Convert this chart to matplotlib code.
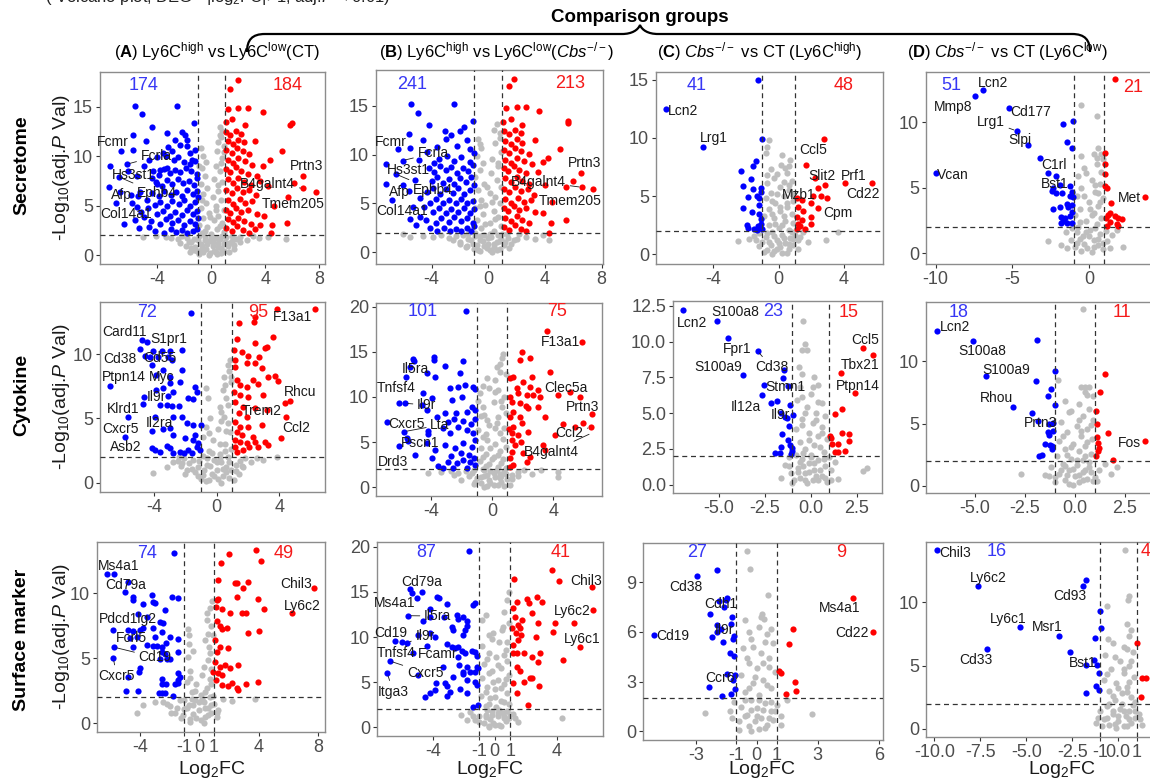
import matplotlib
matplotlib.use("Agg")
import matplotlib.pyplot as plt
from matplotlib.path import Path
from matplotlib.patches import PathPatch

plt.rcParams['font.family'] = ['Liberation Sans', 'DejaVu Sans']
plt.rcParams['mathtext.fontset'] = 'custom'
plt.rcParams['mathtext.rm'] = 'Liberation Sans'
plt.rcParams['mathtext.it'] = 'Liberation Sans:italic'
plt.rcParams['mathtext.bf'] = 'Liberation Sans:bold'
plt.rcParams['axes.unicode_minus'] = False

# ---------------- data (log2FC, -log10 adj.P) ----------------
# row 1: secretome
A1_blue = [(-5.65,15.1),(-5.16,14.3),(-4.42,13.0),(-2.57,15.1),(-1.26,13.4),(-5.83,12.2),(-6.7,10.5),(-5.8,10.6),
           (-7.5,9.0),(-6.27,9.2),(-6.84,7.9),(-7.58,6.9),(-7.1,5.3),(-5.4,2.7),(-5.0,3.9),(-4.86,11.5),(-3.3,12.4),
           (-2.2,12.5),(-1.8,11.7),(-6.77,6.4),(-6.0,6.1),(-5.46,6.0),(-5.5,4.9),(-5.3,6.4),(-4.8,5.6),(-4.05,7.2),
           (-4.4,7.8),(-3.8,8.6),(-3.3,8.8),(-2.8,9.6),(-2.3,11.1),(-1.8,11.0),(-1.6,10.3),(-1.45,9.6),(-1.2,10.6),
           (-1.95,12.2),(-2.7,11.7),(-3.2,10.9),(-3.4,10.0),
           (-4.3,8.5),(-3.9,8.1),(-3.5,8.7),(-3.1,8.3),(-2.7,8.6),(-2.3,8.4),(-1.9,8.8),(-1.5,8.5),(-1.1,8.2),
           (-4.1,7.4),(-3.7,7.0),(-3.3,7.6),(-2.9,7.2),(-2.5,7.7),(-2.1,7.3),(-1.7,7.5),(-1.3,7.1),(-1.05,7.8),
           (-4.4,6.3),(-3.9,6.0),(-3.5,6.5),(-3.0,6.1),(-2.6,6.4),(-2.2,6.0),(-1.8,6.6),(-1.4,6.2),(-1.1,6.5),
           (-4.2,5.1),(-3.8,5.4),(-3.3,5.0),(-2.9,5.5),(-2.4,5.2),(-2.0,5.6),(-1.6,5.0),(-1.2,5.4),
           (-4.0,4.2),(-3.6,4.5),(-3.1,4.0),(-2.7,4.4),(-2.2,4.1),(-1.8,4.6),(-1.4,4.2),(-1.05,4.5),
           (-4.5,3.4),(-3.8,3.1),(-3.4,3.6),(-2.9,3.2),(-2.5,3.5),(-2.0,3.0),(-1.6,3.4),(-1.2,3.1),
           (-4.2,2.4),(-3.5,2.2),(-3.0,2.6),(-2.6,2.3),(-2.2,2.5),(-1.8,2.2),(-1.4,2.4),(-1.1,2.6),(-1.0,3.8),
           (-1.0,5.9),(-4.7,4.8),(-4.6,2.8),(-5.2,4.4),(-5.7,3.5),(-5.9,5.3),(-6.5,3.1),(-6.2,8.5),(-5.5,8.0),
           (-5.0,9.0),(-4.6,9.6),(-4.0,9.9),(-3.6,10.3),(-2.9,10.5),(-2.5,9.9),(-2.0,9.4),(-1.6,9.2),(-1.2,9.5)]
A1_red = [(1.93,17.7),(1.38,16.8),(1.26,14.8),(2.0,14.9),(2.7,14.9),(3.78,14.5),(5.95,13.4),(5.8,13.2),(5.2,10.5),
          (4.3,9.6),(6.8,8.0),(7.75,6.35),(6.1,7.3),(6.8,6.75),(5.7,5.9),(5.6,3.2),(4.5,3.0),(4.4,2.2),(3.9,3.95),
          (3.3,6.1),(1.1,12.5),(1.4,12.2),(1.8,12.6),(2.2,12.3),(1.2,11.5),(1.6,11.2),(2.0,11.7),(2.4,11.4),
          (1.1,10.6),(1.5,10.3),(1.9,10.8),(2.3,10.5),(2.8,10.2),(1.2,9.6),(1.6,9.3),(2.0,9.8),(2.5,9.5),(3.0,9.1),
          (1.1,8.7),(1.4,8.4),(1.8,8.9),(2.2,8.5),(2.7,8.2),(3.4,8.0),(1.2,7.7),(1.6,7.3),(2.0,7.8),(2.4,7.4),
          (2.9,7.1),(3.6,7.5),(1.1,6.6),(1.5,6.3),(1.9,6.8),(2.3,6.4),(2.8,6.6),(4.2,7.0),(1.2,5.6),(1.6,5.2),
          (2.1,5.7),(2.5,5.3),(3.0,5.5),(1.1,4.6),(1.4,4.3),(1.8,4.8),(2.2,4.4),(2.7,4.6),(3.4,4.2),(1.2,3.6),
          (1.6,3.3),(2.0,3.8),(2.4,3.4),(2.9,3.1),(1.1,2.7),(1.5,2.4),(1.9,2.9),(2.3,2.5),(2.8,2.2),(3.2,2.6),
          (1.05,13.5),(1.5,13.8),(2.5,13.2),(3.2,11.6),(3.8,9.0),(4.6,5.0),(3.6,3.0)]
A1_grey = [(0.6,13.0),(0.8,12.6),(0.7,12.0),(0.5,11.4),(0.9,11.0),(-0.8,10.8),(0.4,10.5),(-0.6,10.0),(0.8,9.8),
           (-0.4,9.4),(0.3,9.0),(-0.7,8.8),(0.6,8.5),(-0.5,8.0),(0.2,7.7),(0.8,7.4),(-0.8,7.2),(-0.3,6.8),(0.5,6.5),
           (-0.6,6.2),(0.1,5.9),(0.7,5.6),(-0.4,5.3),(0.3,5.0),(-0.8,4.8),(0.9,4.6),(-0.2,4.3),(0.5,4.0),(-0.6,3.7),
           (0.2,3.5),(0.8,3.2),(-0.9,3.0),(-0.3,2.8),(0.4,2.6),(0.9,2.3),(-0.7,2.2),(0.0,2.1),(-0.5,1.8),(0.3,1.7),
           (-0.2,1.4),(0.5,1.2),(-0.8,1.1),(0.1,0.9),(0.7,0.7),(-0.4,0.6),(0.2,0.4),(-0.1,0.2),(0.4,0.1),(-0.6,0.3),
           (0.9,0.4),(-1.2,0.8),(1.2,0.9),(-1.5,1.3),(1.5,1.4),(-1.8,1.7),(1.8,1.6),(-2.2,1.9),(2.1,1.8),(-2.5,1.6),
           (2.6,1.5),(-3.0,1.7),(3.1,1.9),(-3.4,1.8),(3.5,1.7),(-4.1,1.9),(4.2,1.8),(-5.1,1.8),(5.5,1.6),(-1.0,1.5),
           (1.0,1.3),(-1.3,0.5),(1.3,0.3),(-0.9,0.1),(0.8,1.9),(-1.6,0.3),(1.7,0.6),
           (-1.9,0.9),(-1.5,0.7),(-1.1,0.4),(-0.7,0.9),(-0.3,1.1),(0.1,1.3),(0.5,0.8),(0.9,1.1),(1.3,1.2),(1.7,1.0),
           (2.1,1.3),(-2.3,1.2),(-0.9,1.9),(-0.5,1.5),(0.0,1.7),(0.6,1.6),(1.1,1.8),(1.5,1.9),(-1.3,1.6),(-1.7,1.3),
           (-0.2,0.0),(0.3,0.3),(0.7,0.2),(-0.8,0.5),(-0.5,2.4),(0.6,2.9),(-0.1,3.9),(0.3,4.6),(-0.7,5.6),(0.5,7.1),
           (0.7,9.3),(0.9,10.4),(-0.9,9.0),(0.6,12.2)]

B1_blue = [(-5.45,15.2),(-4.93,14.3),(-4.2,13.05),(-2.4,15.2),(-1.1,13.5),(-5.56,12.1),(-6.4,10.6),(-5.5,10.7),
           (-7.2,9.05),(-6.04,9.4),(-6.5,8.0),(-7.2,7.0),(-6.8,5.4),(-5.1,2.8),(-4.1,2.5),(-4.6,11.5),(-3.05,12.4),
           (-2.0,12.4),(-1.5,11.5),(-6.0,6.9),(-5.6,6.3),(-5.2,7.4),(-4.8,5.6),(-5.3,4.6),(-4.9,9.5),(-4.3,10.3),
           (-3.6,10.8),(-3.0,11.6),(-2.6,12.0),(-1.7,12.8),(-1.3,10.6),(-2.2,10.9),(-3.8,9.2),
           (-4.2,8.6),(-3.8,8.2),(-3.4,8.8),(-3.0,8.4),(-2.6,8.7),(-2.2,8.1),(-1.8,8.6),(-1.4,8.3),(-1.05,8.9),
           (-4.0,7.3),(-3.6,7.7),(-3.2,7.1),(-2.8,7.5),(-2.4,7.0),(-2.0,7.6),(-1.6,7.2),(-1.2,7.7),
           (-4.3,6.2),(-3.9,6.6),(-3.4,6.0),(-3.0,6.5),(-2.5,6.1),(-2.1,6.6),(-1.7,6.0),(-1.3,6.4),(-1.0,6.9),
           (-4.1,5.0),(-3.7,5.5),(-3.2,5.1),(-2.8,5.4),(-2.3,5.0),(-1.9,5.5),(-1.5,5.1),(-1.1,5.3),
           (-3.9,4.1),(-3.5,4.5),(-3.0,4.0),(-2.6,4.4),(-2.1,4.1),(-1.7,4.5),(-1.3,4.0),(-1.0,4.4),
           (-4.4,3.3),(-3.7,3.0),(-3.3,3.5),(-2.8,3.1),(-2.4,3.6),(-1.9,3.2),(-1.5,3.5),(-1.1,3.0),
           (-3.6,2.2),(-3.1,2.5),(-2.7,2.2),(-2.3,2.4),(-1.9,2.2),(-1.5,2.5),(-1.2,2.2),(-1.0,2.7),
           (-4.5,4.6),(-4.8,3.6),(-5.5,3.4),(-3.5,9.6),(-2.9,9.9),(-2.4,9.4),(-1.9,9.8),(-1.3,9.3),(-1.0,10.2)]
B1_red = [(1.5,17.0),(1.85,17.8),(1.25,14.8),(2.0,14.9),(2.7,14.9),(3.6,14.5),(5.66,13.5),(5.6,13.2),(5.1,10.6),
          (4.2,9.7),(6.55,8.1),(7.4,6.45),(5.96,7.35),(6.6,6.66),(5.5,6.7),(5.5,3.3),(4.4,3.0),(4.3,2.0),(3.85,4.0),
          (3.2,5.9),(1.1,12.4),(1.5,12.1),(1.9,12.5),(2.3,12.2),(1.2,11.4),(1.6,11.1),(2.0,11.6),(2.4,11.2),
          (1.1,10.5),(1.5,10.2),(1.9,10.7),(2.3,10.4),(2.9,10.1),(1.2,9.5),(1.6,9.2),(2.0,9.7),(2.5,9.4),(3.1,9.0),
          (1.1,8.6),(1.4,8.3),(1.8,8.8),(2.2,8.4),(2.7,8.1),(3.5,8.2),(1.2,7.6),(1.6,7.2),(2.0,7.7),(2.4,7.3),
          (2.9,7.0),(1.1,6.5),(1.5,6.2),(1.9,6.7),(2.3,6.3),(2.8,6.5),(4.0,6.9),(1.2,5.5),(1.6,5.1),(2.1,5.6),
          (2.5,5.2),(3.0,5.4),(1.1,4.5),(1.4,4.2),(1.8,4.7),(2.2,4.3),(2.7,4.5),(3.3,4.1),(1.2,3.5),(1.6,3.2),
          (2.0,3.7),(2.4,3.3),(2.9,3.0),(1.1,2.6),(1.5,2.3),(1.9,2.8),(2.3,2.4),(2.7,2.2),(1.05,13.4),(1.6,13.7),
          (2.4,13.0),(3.3,11.5),(3.9,9.3),(4.5,5.2)]
B1_grey = [(0.6,13.1),(0.4,12.5),(0.8,12.2),(-0.7,11.6),(0.5,11.2),(-0.5,10.7),(0.9,10.3),(-0.8,9.9),(0.3,9.6),
           (-0.4,9.1),(0.7,8.8),(-0.6,8.4),(0.2,8.1),(-0.9,7.7),(0.6,7.4),(-0.3,7.0),(0.9,6.7),(-0.7,6.4),(0.1,6.1),
           (0.5,5.7),(-0.5,5.4),(0.8,5.1),(-0.2,4.8),(-0.9,4.5),(0.4,4.2),(-0.4,3.9),(0.7,3.6),(-0.8,3.3),(0.1,3.0),
           (0.9,2.7),(-0.5,2.5),(0.4,2.2),(-0.3,1.8),(0.2,1.6),(-0.6,1.3),(0.6,1.1),(0.0,0.9),(-0.3,0.6),(0.4,0.5),
           (0.1,0.2),(-0.6,0.1),(0.8,0.3),(-1.1,0.9),(1.1,0.7),(-1.4,1.4),(1.4,1.5),(-1.8,1.8),(1.8,1.3),(-2.3,1.7),
           (2.2,1.9),(-2.8,1.5),(2.7,1.6),(-3.3,1.8),(3.3,1.4),(-3.9,1.6),(3.9,1.8),(-4.6,1.7),(4.3,1.3),(-5.5,1.6),
           (-6.0,1.9),(-1.0,0.3),(1.0,1.9),(-1.5,0.6),(1.5,0.4),(-0.9,1.7),(0.9,1.4),(-2.0,1.1),
           (-2.0,0.9),(-1.6,0.5),(-1.2,1.3),(-0.8,0.7),(-0.4,1.2),(0.0,1.5),(0.4,0.9),(0.8,1.2),(1.2,1.1),(1.6,0.9),
           (2.0,1.4),(-2.5,1.3),(-0.9,2.0),(-0.6,1.7),(0.1,1.9),(0.7,1.8),(1.3,1.9),(-1.4,1.9),(-0.1,0.4),(0.3,0.0),
           (0.6,0.2),(-0.7,0.2),(-0.2,2.9),(0.5,3.4),(-0.6,4.7),(0.3,5.2),(-0.1,6.7),(0.7,9.2),(-0.6,11.1),(0.8,11.7)]

C1_blue = [(-1.29,15.0),(-6.9,12.5),(-4.65,9.25),(-1.02,9.9),(-1.39,8.0),(-1.6,7.6),(-2.29,7.2),(-1.7,6.5),
           (-2.16,5.9),(-1.1,5.7),(-1.1,5.4),(-1.6,5.6),(-1.35,5.0),(-1.2,4.8),(-1.9,4.9),(-1.2,4.25),(-2.18,4.0),
           (-1.65,3.65),(-1.2,3.5),(-1.1,3.0),(-1.92,2.5),(-1.86,2.3),(-1.25,2.4),(-1.08,2.65),(-1.3,2.1),
           (-1.05,2.2),(-1.5,2.2)]
C1_red = [(2.8,9.9),(1.67,7.7),(2.2,6.6),(2.84,6.0),(2.43,5.7),(4.06,6.1),(5.73,6.1),(2.08,5.0),(2.57,5.0),
          (2.98,4.8),(1.4,4.7),(1.1,4.8),(2.0,4.4),(2.43,3.95),(1.2,4.1),(1.5,3.7),(2.0,3.2),(1.1,3.2),(1.4,2.95),
          (1.2,2.65),(2.0,2.6),(1.31,2.4),(1.1,2.2),(1.6,2.2)]
C1_grey = [(-0.6,9.8),(-0.7,9.25),(0.2,8.5),(0.7,8.1),(0.14,7.7),(-0.5,7.3),(0.5,7.0),(-0.3,6.6),(0.8,6.3),
           (-0.7,6.1),(0.1,5.8),(0.6,5.5),(-0.5,5.3),(0.3,5.0),(-0.8,4.8),(0.9,4.6),(-0.2,4.4),(0.5,4.1),(-0.6,3.9),
           (0.1,3.7),(0.8,3.5),(-0.9,3.3),(-0.3,3.1),(0.4,2.9),(0.9,2.7),(-0.6,2.5),(0.0,2.3),(0.6,2.1),(-0.4,1.9),
           (0.2,1.7),(-0.8,1.5),(0.7,1.4),(-0.1,1.2),(0.4,1.0),(-0.5,0.8),(0.1,0.6),(0.6,0.5),(-0.3,0.3),(0.2,0.15),
           (-0.7,0.4),(0.9,0.8),(-1.0,1.1),(1.0,1.7),(-1.2,1.8),(1.2,1.2),(-1.5,1.6),(1.5,1.9),(-1.8,1.3),(1.8,1.1),
           (-2.5,1.15),(2.9,1.2),(3.6,1.9),(-0.2,2.6),(0.3,3.3),(-0.4,4.6),(0.6,6.0),(-0.1,6.9),(0.4,7.4),
           (-0.9,0.2),(-0.6,1.1),(-0.3,1.6),(0.0,1.0),(0.3,1.4),(0.6,0.9),(0.9,1.3),(1.2,0.5),(-1.2,0.7),(-0.4,0.0),
           (0.5,0.1),(-0.1,0.5),(0.8,1.9),(-0.7,1.8),(1.3,1.5),(-1.4,1.2),(0.2,2.5),(-0.4,3.5),(0.5,4.4),(-0.1,5.2),
           (0.3,6.2),(0.6,7.6),(-0.8,8.7),(0.1,4.1),(0.8,5.2),(-0.7,6.8)]

D1_blue = [(-6.93,12.5),(-7.43,12.0),(-5.2,11.1),(-4.72,9.34),(-3.96,8.27),(-3.2,7.3),(-2.7,6.16),(-9.98,6.1),
           (-2.17,5.9),(-1.67,9.85),(-1.07,10.1),(-1.46,8.5),(-1.13,8.07),(-1.9,5.2),(-2.33,4.96),(-2.4,4.76),
           (-1.78,4.58),(-1.24,5.14),(-1.13,4.7),(-1.24,4.38),(-1.07,4.3),(-2.33,3.38),(-1.9,3.56),(-1.46,3.77),
           (-1.35,3.56),(-1.13,3.69),(-1.8,2.8),(-1.57,2.67),(-1.24,2.85),(-1.13,3.18),(-1.8,2.29),(-1.46,2.29),
           (-1.13,2.29),(-1.67,2.47),(-2.17,4.63)]
D1_red = [(1.7,13.3),(3.65,4.33),(1.04,7.63),(1.04,6.8),(1.04,6.03),(1.04,5.14),(1.15,5.0),(1.41,3.82),(1.37,3.1),
          (1.26,2.93),(1.7,2.85),(1.91,2.67),(2.13,2.6),(1.1,2.67),(1.37,2.42),(1.15,2.09),(1.8,2.24),(1.91,2.09)]
D1_grey = [(-0.52,11.3),(0.5,10.5),(0.6,8.0),(0.3,7.6),(-0.5,7.4),(0.9,7.2),(0.5,6.8),(-0.3,6.5),(0.8,6.2),
           (-0.7,5.9),(0.2,5.6),(0.7,5.3),(-0.5,5.0),(0.4,4.7),(-0.8,4.4),(0.9,4.2),(0.0,3.9),(0.6,3.6),(-0.6,3.4),
           (0.3,3.1),(-0.9,2.9),(0.8,2.7),(-0.2,2.5),(0.5,2.2),(-0.7,2.0),(0.1,1.8),(0.7,1.5),(-0.4,1.3),(0.3,1.0),
           (-0.8,0.8),(0.6,0.6),(-0.1,0.4),(0.2,0.1),(-0.5,0.2),(0.9,0.3),(-1.2,1.0),(1.2,0.9),(-1.5,1.6),(1.5,1.4),
           (-1.8,0.6),(1.8,1.8),(-2.7,0.97),(2.2,0.5),(-1.1,1.9),(1.1,1.7),
           (-0.9,0.5),(-0.6,1.1),(-0.3,0.7),(0.0,1.3),(0.3,0.5),(0.6,1.1),(0.9,0.8),(1.4,0.4),(-1.4,0.4),(-0.2,1.6),
           (0.4,1.9),(-0.6,2.4),(0.2,2.9),(0.7,3.9),(-0.3,4.4),(0.4,5.2),(0.8,7.6),(0.5,7.3),(-0.2,6.1),(0.6,4.6),
           (0.1,3.4),(-0.8,1.6)]

# row 2: cytokine
A2_blue = [(-1.66,13.2),(-4.79,11.1),(-4.47,10.9),(-4.9,10.4),(-4.04,10.2),(-3.47,10.2),(-2.98,10.2),(-2.23,10.3),
           (-4.57,9.84),(-4.26,9.74),(-3.72,9.8),(-3.09,9.74),(-2.87,9.5),(-4.15,9.15),(-3.45,8.76),(-2.23,8.76),
           (-3.87,8.37),(-2.98,8.24),(-6.8,7.54),(-2.98,7.72),(-2.34,7.85),(-3.87,7.2),(-3.4,7.33),(-2.77,7.07),
           (-4.64,6.63),(-3.09,6.74),(-1.38,7.46),(-1.28,7.07),(-1.85,6.55),(-1.49,6.48),(-4.72,6.11),(-3.62,6.04),
           (-3.19,6.04),(-2.83,5.96),(-2.38,5.96),(-5.68,5.08),(-3.94,5.13),(-2.77,5.13),(-2.23,5.08),(-1.87,4.61),
           (-1.49,4.48),(-1.0,4.48),(-4.15,4.04),(-3.4,4.15),(-2.98,4.22),(-5.85,3.58),(-2.77,3.7),(-1.38,3.7),
           (-2.02,3.45),(-1.49,3.32),(-1.17,3.06),(-4.15,2.72),(-3.94,2.54),(-3.62,2.41),(-3.19,2.88),(-2.98,2.67),
           (-2.81,2.28),(-2.34,2.41),(-2.06,2.28),(-1.81,2.54),(-1.6,2.28),(-1.28,2.8),(-1.06,2.54)]
A2_red = [(3.83,13.5),(6.3,13.5),(2.45,12.85),(1.45,12.38),(2.4,12.5),(3.57,11.35),(1.28,11.14),(2.45,10.83),
          (3.19,10.57),(3.09,10.44),(1.13,10.3),(1.6,10.18),(2.02,9.84),(2.72,9.74),(1.17,9.53),(1.17,9.0),
          (1.91,9.27),(2.45,9.27),(2.87,8.9),(3.3,8.24),(3.72,8.29),(3.94,7.93),(1.28,7.98),(1.49,7.59),(1.91,7.46),
          (2.34,7.98),(2.66,7.67),(1.13,7.07),(1.49,6.81),(2.02,6.68),(2.98,6.81),(4.68,6.37),(4.36,6.17),(1.17,6.3),
          (1.66,5.9),(2.45,5.78),(3.19,5.65),(1.45,5.39),(1.91,5.13),(4.4,5.08),(1.17,4.74),(1.49,4.35),(2.02,4.35),
          (2.87,4.48),(1.28,3.96),(1.6,3.7),(2.34,3.58),(1.17,3.32),(1.49,3.19),(1.91,3.06),(2.45,3.19),(3.09,3.19),
          (3.3,2.93),(4.1,3.45),(1.17,2.8),(1.7,2.54),(2.09,2.8),(1.28,2.41),(2.66,2.8)]
A2_grey = [(0.74,9.15),(0.85,9.5),(0.47,8.24),(0.38,7.2),(-0.68,7.33),(-0.53,6.55),(0.21,5.9),(0.47,5.13),
           (0.74,4.61),(0.85,3.96),(-0.21,3.32),(-0.85,3.58),(0.6,6.6),(0.9,7.8),(0.8,8.7),(-0.4,5.0),(0.1,4.2),
           (-0.7,4.3),(0.5,3.0),(0.9,2.6),(-0.5,2.5),(0.2,2.2),(-0.9,2.1),(-0.2,1.8),(0.3,1.6),(-0.6,1.4),(0.6,1.2),
           (0.0,1.0),(-0.3,0.7),(0.4,0.5),(0.1,0.3),(-0.5,0.2),(0.8,0.4),(-0.9,0.6),(0.9,1.0),(-1.2,1.2),(1.2,1.4),
           (-1.5,1.8),(1.5,1.7),(-1.8,1.5),(1.8,1.9),(-2.1,1.9),(2.2,1.6),(-2.5,1.7),(2.6,1.9),(-2.77,1.63),
           (-2.23,1.55),(-3.19,1.24),(-4.04,0.78),(3.83,2.02),(2.98,1.76),(-1.0,0.3),(1.1,0.2),(-1.4,0.8),(1.4,0.7),
           (-1.9,1.0),(1.7,1.2),(-2.4,2.0),
           (-2.0,0.7),(-1.6,1.1),(-1.2,0.5),(-0.8,1.0),(-0.4,1.3),(0.0,1.6),(0.4,1.1),(0.8,1.6),(1.2,0.9),(1.6,1.3),
           (-2.3,1.3),(-0.6,1.9),(0.2,1.9),(0.7,2.0),(-1.1,1.7),(-0.2,0.5),(0.3,0.0),(-0.7,0.1),(0.6,0.8),(-0.3,2.3),
           (0.5,2.5),(0.2,3.0),(-0.5,3.9),(0.6,4.0),(0.3,5.5),(0.7,6.0),(0.5,7.6),(0.9,8.2),(0.3,4.8)]

B2_blue = [(-1.72,19.5),(-5.13,14.17),(-5.09,14.0),(-3.76,14.46),(-3.76,14.1),(-1.91,14.0),(-3.07,13.43),
           (-5.35,13.28),(-4.26,12.62),(-5.61,12.25),(-3.72,12.25),(-2.09,12.7),(-2.74,10.96),(-2.2,11.14),
           (-1.76,11.33),(-1.22,11.14),(-1.11,10.85),(-4.52,10.4),(-3.93,9.85),(-6.1,9.37),(-5.67,9.3),(-4.59,9.11),
           (-4.26,8.56),(-2.63,9.67),(-1.98,10.04),(-3.07,8.19),(-2.35,8.19),(-1.65,8.38),(-1.33,8.93),(-1.11,8.56),
           (-3.61,7.75),(-6.87,7.2),(-5.74,6.16),(-4.15,6.27),(-5.57,5.5),(-5.5,5.13),(-6.1,4.61),(-5.02,3.58),
           (-3.17,6.53),(-2.74,5.98),(-2.2,6.72),(-1.65,6.35),(-1.22,5.98),(-4.26,4.87),(-3.72,4.13),(-3.07,4.69),
           (-2.41,4.32),(-1.87,4.87),(-1.33,4.5),(-1.11,5.24),(-3.5,2.36),(-3.17,2.1),(-2.85,2.84),(-2.3,2.66),
           (-1.87,3.03),(-1.43,2.84),(-1.11,2.47),(-2.52,2.1),(-1.65,2.1),(-4.15,5.9),(-2.9,7.2),(-2.5,7.6),
           (-1.9,7.3),(-1.4,7.0),(-1.1,7.6),(-2.7,3.5),(-2.0,3.8),(-1.5,3.6),(-1.2,3.3),(-3.9,3.2)]
B2_red = [(3.59,17.3),(5.89,16.1),(1.93,14.94),(2.48,14.28),(1.83,14.1),(3.78,12.8),(1.17,12.07),(1.39,12.25),
          (2.59,12.25),(2.04,11.7),(2.48,11.14),(3.02,10.77),(1.17,10.04),(1.72,10.4),(2.26,10.22),(2.7,10.22),
          (3.13,10.04),(4.33,10.22),(5.09,10.59),(5.74,10.04),(1.28,9.48),(1.83,9.3),(2.37,8.75),(3.02,8.93),
          (1.39,8.38),(1.17,7.82),(1.83,7.82),(3.46,7.82),(6.5,8.12),(4.65,7.0),(5.96,7.16),(5.41,6.64),(6.43,6.64),
          (4.11,5.79),(1.39,6.72),(1.93,7.08),(1.28,5.98),(1.72,5.79),(2.37,6.09),(1.28,5.24),(1.5,4.69),(3.35,4.69),
          (1.28,3.95),(2.04,3.76),(2.48,3.39),(2.26,2.84),(1.39,2.47),(1.17,2.29),(3.46,4.13),(1.6,11.0),(2.2,9.0),
          (1.1,6.5),(1.9,5.0),(1.2,3.2)]
B2_grey = [(0.74,14.76),(0.63,14.28),(0.3,13.36),(0.2,11.9),(-0.35,12.07),(-0.78,10.4),(-0.57,8.93),(0.41,10.77),
           (0.63,8.93),(-0.35,7.45),(0.2,6.53),(-0.57,5.6),(0.9,12.5),(0.5,12.8),(-0.2,11.0),(0.8,10.0),(-0.9,9.6),
           (0.1,9.4),(0.9,8.2),(-0.7,7.9),(0.4,7.8),(-0.2,6.9),(0.8,6.6),(-0.9,6.3),(0.5,6.0),(-0.3,5.2),(0.2,4.8),
           (0.9,4.5),(-0.7,4.3),(0.5,4.0),(-0.4,3.7),(0.1,3.4),(0.7,3.1),(-0.8,2.9),(-0.2,2.6),(0.4,2.3),(0.9,2.1),
           (-0.6,2.0),(-0.1,1.8),(0.5,1.5),(-0.5,1.3),(0.2,1.1),(-0.2,0.8),(0.6,0.6),(-0.7,0.5),(0.1,0.3),(-0.3,0.1),
           (0.8,0.2),(-1.0,1.0),(1.0,0.9),(-1.3,1.6),(1.3,1.4),(-1.7,1.8),(1.7,1.7),(-2.2,1.6),(2.1,1.9),(-2.7,1.8),
           (2.6,1.5),(-3.3,1.7),(3.2,1.9),(-4.15,1.55),(4.33,1.73),(4.33,1.18),(-1.2,0.4),(1.2,0.3),
           (-2.0,0.8),(-1.5,1.2),(-1.1,0.6),(-0.7,1.1),(-0.3,1.4),(0.1,1.6),(0.5,1.0),(0.9,1.5),(1.3,0.9),(1.7,1.2),
           (-2.5,1.4),(-0.5,1.9),(0.3,1.9),(0.8,1.8),(-1.2,1.9),(-0.1,0.5),(0.4,0.3),(-0.5,0.0),(0.6,1.3),(-0.4,2.4),
           (0.6,2.7),(0.0,3.1),(-0.6,3.4),(0.4,3.6),(-0.1,4.3),(0.7,5.3),(-0.4,5.9),(0.3,7.1),(-0.5,8.0),(0.6,9.6),
           (0.2,10.5),(-0.6,11.2),(0.5,13.6)]

C2_blue = [(-6.95,12.2),(-5.13,11.43),(-4.49,10.22),(-2.89,9.33),(-3.67,7.66),(-2.55,6.96),(-2.67,6.26),
           (-2.16,5.68),(-1.84,5.87),(-1.45,8.0),(-1.53,7.43),(-1.22,6.89),(-1.13,5.56),(-0.98,4.87),(-1.62,4.98),
           (-1.4,4.75),(-1.27,4.63),(-1.16,4.1),(-1.55,3.54),(-1.22,3.12),(-1.13,2.77),(-1.04,2.54),(-1.62,2.65),
           (-1.95,2.19),(-1.67,2.19),(-1.09,2.14),(-1.0,2.37)]
C2_red = [(2.87,9.57),(3.42,9.05),(1.64,7.77),(2.42,6.38),(1.73,5.26),(1.33,4.93),(1.05,3.4),(1.09,3.24),
          (1.69,3.58),(2.09,3.54),(2.11,3.03),(1.15,2.82),(1.47,2.82),(1.33,2.3),(1.51,2.26),(1.87,2.35)]
C2_grey = [(-0.44,11.43),(-0.31,9.82),(-0.22,9.4),(-0.49,9.4),(-0.64,8.19),(-0.45,7.73),(0.2,7.54),(0.42,6.96),
           (-0.58,6.84),(-0.76,5.91),(0.6,5.68),(0.0,6.3),(-0.2,5.4),(0.3,5.0),(0.8,4.8),(-0.5,4.6),(0.1,4.3),
           (0.6,4.0),(-0.8,3.9),(-0.1,3.6),(0.4,3.4),(0.9,3.2),(-0.6,3.0),(0.2,2.8),(-0.3,2.5),(0.7,2.3),(-0.8,2.1),
           (0.0,2.05),(-0.5,1.8),(0.4,1.7),(-0.1,1.5),(0.8,1.3),(-0.7,1.2),(0.2,1.0),(-0.3,0.8),(0.6,0.6),(-0.6,0.5),
           (0.1,0.3),(0.9,0.2),(-0.9,0.3),(-0.2,0.1),(0.4,0.35),(-1.1,0.8),(1.1,1.0),(-1.4,1.37),(1.3,1.6),
           (-1.2,1.9),(1.0,1.9),(2.87,0.98),(3.05,1.14),(-1.6,0.5),(1.5,0.4),
           (-1.0,0.1),(-0.7,0.9),(-0.4,1.3),(-0.1,0.9),(0.2,1.5),(0.5,1.0),(0.8,0.5),(1.1,0.3),(-1.2,1.3),(-0.3,0.3),
           (0.3,0.6),(0.7,1.8),(-0.6,1.6),(0.0,1.9),(-0.4,2.2),(0.5,2.6),(-0.1,3.1),(0.6,3.6),(-0.5,4.2),(0.3,4.5),
           (-0.3,5.0),(0.4,5.8),(-0.5,6.1),(0.1,6.8)]

D2_blue = [(-6.9,12.4),(-5.07,11.63),(-4.43,8.8),(-3.07,6.35),(-1.87,11.68),(-1.95,8.4),(-2.15,5.87),(-1.82,5.23),
           (-1.35,7.23),(-1.2,7.73),(-1.0,9.23),(-1.0,6.45),(-1.27,5.0),(-1.1,5.07),(-1.32,4.35),(-1.27,4.08),
           (-1.1,4.43),(-1.48,3.36),(-1.23,3.28),(-1.12,3.23),(-1.15,2.96),(-1.65,2.48),(-1.77,2.43)]
D2_red = [(1.53,8.93),(1.27,7.49),(1.07,6.0),(1.1,4.96),(1.68,4.21),(1.1,3.89),(1.18,3.41),(1.23,3.07),
          (1.18,2.83),(1.07,2.4),(1.9,2.08),(3.52,3.6)]
D2_grey = [(0.4,14.13),(0.73,7.89),(0.32,7.89),(-0.82,8.48),(0.5,7.5),(0.9,7.2),(-0.5,6.8),(0.2,6.6),(0.7,6.2),
           (-0.3,5.9),(0.4,5.6),(0.9,5.3),(-0.7,5.1),(0.1,4.8),(0.6,4.6),(-0.4,4.3),(0.3,4.0),(0.85,3.8),(-0.8,3.6),
           (-0.1,3.4),(0.5,3.2),(-0.5,3.0),(0.2,2.8),(0.8,2.6),(-0.9,2.4),(-0.2,2.2),(0.4,2.05),(-0.6,1.8),(0.1,1.7),
           (0.7,1.5),(-0.3,1.3),(0.4,1.1),(-0.8,1.0),(0.0,0.8),(0.6,0.6),(-0.5,0.5),(0.2,0.3),(-0.1,0.1),(0.9,0.4),
           (-1.2,1.5),(1.2,1.3),(-1.5,0.9),(1.5,1.8),(-2.68,0.96),(2.1,1.55),(1.8,1.0),(-1.0,0.3),(1.0,0.7),
           (-1.0,0.7),(-0.7,1.3),(-0.4,0.9),(-0.1,1.4),(0.2,0.9),(0.5,1.3),(0.8,1.1),(1.1,0.4),(-1.3,0.8),(-0.3,0.2),
           (0.4,0.5),(0.7,1.9),(-0.5,1.6),(0.1,2.1),(-0.4,2.5),(0.5,2.4),(-0.2,3.1),(0.6,3.5),(-0.6,4.0),(0.3,4.4),
           (0.8,4.9),(0.2,5.3),(-0.2,6.0),(0.6,7.3),(0.5,7.9)]

# row 3: surface marker
A3_blue = [(-1.7,13.13),(-6.24,11.49),(-5.72,11.49),(-4.78,10.9),(-5.0,10.13),(-4.48,9.69),(-4.44,9.49),
           (-3.81,9.18),(-3.2,9.87),(-3.09,9.36),(-2.98,9.23),(-2.3,8.72),(-1.85,9.74),(-1.4,9.62),(-4.1,8.38),
           (-3.54,8.21),(-2.64,7.82),(-2.42,7.74),(-5.79,7.18),(-4.78,7.18),(-4.44,7.13),(-3.99,7.18),(-3.76,7.31),
           (-3.09,7.31),(-2.53,7.05),(-2.98,6.67),(-4.66,6.54),(-4.21,6.67),(-1.97,6.67),(-1.4,6.46),(-4.44,5.9),
           (-3.54,6.03),(-3.09,5.95),(-2.87,5.95),(-2.53,5.85),(-2.26,6.15),(-5.72,5.85),(-2.53,5.51),(-2.3,5.33),
           (-2.19,4.92),(-2.64,4.92),(-1.97,4.92),(-1.4,5.51),(-5.79,5.0),(-3.99,4.23),(-4.04,3.97),(-4.78,3.59),
           (-2.48,3.44),(-1.4,3.85),(-1.29,3.59),(-1.4,3.33),(-2.48,3.0),(-2.26,3.0),(-1.63,3.03),(-1.4,3.08),
           (-4.93,2.49),(-4.1,2.51),(-2.69,2.36),(-2.53,2.31),(-2.3,2.36),(-1.74,2.13)]
A3_red = [(2.03,13.0),(1.45,12.31),(3.81,13.33),(4.17,12.51),(7.76,10.38),(6.28,8.46),(1.29,11.03),(2.42,10.77),
          (2.53,10.82),(3.27,10.9),(2.98,10.38),(1.18,9.49),(1.29,9.54),(2.53,9.74),(3.99,9.54),(1.11,8.92),
          (1.52,8.77),(2.08,8.51),(2.87,8.51),(3.16,8.51),(4.39,8.79),(1.18,7.9),(1.4,7.49),(1.52,7.26),(1.85,7.31),
          (3.31,6.92),(4.03,7.13),(1.07,6.41),(1.4,5.9),(1.92,5.77),(1.18,5.51),(1.07,4.74),(1.4,4.36),(1.74,4.49),
          (2.08,4.23),(2.64,4.49),(0.96,3.97),(1.29,3.85),(1.52,3.72),(1.15,3.33),(1.52,2.95),(1.97,2.87),
          (2.19,3.08),(2.53,2.69),(3.16,3.0),(3.99,3.21),(2.64,2.56)]
A3_grey = [(0.84,9.41),(0.75,8.9),(0.55,7.95),(-0.73,7.23),(-0.66,6.79),(0.66,5.9),(-0.73,5.13),(0.62,4.87),
           (0.9,6.8),(0.4,6.4),(-0.4,5.6),(0.8,4.2),(-0.6,4.0),(0.2,3.7),(0.7,3.4),(-0.8,3.2),(-0.2,3.0),(0.5,2.7),
           (-0.5,2.4),(0.1,2.2),(0.9,2.1),(-0.3,1.8),(0.3,1.6),(-0.7,1.4),(0.6,1.2),(0.0,1.0),(-0.4,0.7),(0.4,0.5),
           (0.1,0.25),(-0.6,0.3),(0.8,0.8),(-1.0,1.1),(1.0,1.5),(-1.3,1.8),(1.3,1.0),(-1.6,0.8),(1.6,1.9),(-2.0,1.3),
           (-2.42,1.67),(-3.0,1.6),(-3.76,1.41),(-4.21,0.77),(3.76,1.9),(2.2,1.7),(-1.2,0.4),(1.2,0.5),
           (-1.9,0.8),(-1.5,1.2),(-1.1,0.6),(-0.8,1.2),(-0.4,1.4),(0.0,1.6),(0.4,1.2),(0.8,1.4),(1.2,0.8),(-2.2,1.5),
           (-0.5,1.9),(0.2,1.9),(0.7,2.0),(-1.0,1.8),(-0.2,0.4),(0.3,0.0),(-0.6,0.1),(0.6,0.6),(-0.3,2.5),(0.4,2.4),
           (0.8,3.0),(-0.6,3.5),(0.3,4.3),(0.7,5.4),(-0.7,6.1),(0.6,6.9),(0.8,7.5),(0.5,8.5)]

B3_blue = [(-1.65,19.56),(-5.47,15.28),(-5.37,14.9),(-4.72,15.0),(-5.0,14.3),(-3.75,14.4),(-3.58,14.3),
           (-3.06,13.6),(-5.58,12.36),(-4.66,11.8),(-4.19,13.06),(-4.19,12.25),(-3.26,12.25),(-2.42,12.44),
           (-2.35,11.96),(-2.07,12.25),(-1.77,11.8),(-1.39,13.54),(-1.28,13.73),(-1.92,10.77),(-1.82,11.22),
           (-2.79,11.07),(-2.68,10.77),(-2.07,10.22),(-6.44,9.59),(-6.01,9.48),(-5.65,9.37),(-4.94,10.22),
           (-4.19,10.4),(-3.86,10.04),(-4.4,9.0),(-3.11,9.23),(-2.79,8.93),(-2.57,8.75),(-2.35,8.86),(-2.14,8.49),
           (-1.92,8.27),(-1.49,8.49),(-1.28,8.38),(-5.3,8.27),(-6.77,7.34),(-6.94,5.98),(-4.94,5.79),(-3.32,6.72),
           (-2.35,7.82),(-2.29,6.9),(-1.82,6.72),(-1.17,7.9),(-1.17,6.72),(-2.03,6.16),(-1.6,6.16),(-1.28,6.16),
           (-1.06,6.53),(-2.68,5.61),(-2.03,5.9),(-1.82,5.24),(-1.28,5.06),(-1.17,4.69),(-3.8,4.87),(-3.21,4.94),
           (-3.11,4.61),(-2.89,3.95),(-2.25,4.21),(-1.82,3.76),(-4.19,3.84),(-3.86,4.13),(-4.5,3.39),(-3.11,3.47),
           (-1.06,2.47),(-1.43,2.21)]
B3_red = [(3.67,17.42),(4.16,16.2),(1.24,16.38),(6.25,15.57),(2.05,14.17),(2.7,14.46),(3.02,13.91),(1.15,13.17),
          (1.4,13.91),(2.22,13.73),(6.36,12.99),(2.38,12.69),(3.88,11.51),(5.11,11.51),(1.3,12.18),(1.73,11.88),
          (2.81,11.51),(1.47,11.33),(1.62,10.96),(1.09,10.96),(1.37,10.4),(1.67,10.22),(2.66,10.04),(3.77,10.59),
          (1.2,9.11),(1.52,9.67),(5.49,8.86),(1.15,8.27),(1.4,8.27),(1.88,8.27),(2.91,8.27),(2.38,7.82),(4.38,7.45),
          (2.81,7.27),(1.4,6.72),(1.62,6.27),(2.27,5.42),(2.38,5.5),(1.15,4.87),(1.9,5.06),(2.87,4.61),(1.4,3.76),
          (2.12,2.47)]
B3_grey = [(0.89,15.02),(0.76,14.1),(0.6,12.8),(0.44,10.77),(-0.1,10.4),(-0.35,10.22),(-0.85,11.88),(-0.6,12.4),
           (0.9,11.6),(0.3,9.5),(-0.8,9.0),(0.7,8.6),(-0.4,8.2),(0.1,7.8),(0.8,7.3),(-0.7,7.0),(0.4,6.6),(-0.2,6.2),
           (0.9,5.8),(-0.8,5.5),(0.2,5.2),(0.6,4.8),(-0.5,4.5),(0.0,4.2),(0.8,3.8),(-0.9,3.5),(-0.3,3.2),(0.4,2.9),
           (0.9,2.6),(-0.6,2.4),(0.1,2.2),(-0.2,1.8),(0.5,1.6),(-0.6,1.4),(0.2,1.2),(-0.3,0.9),(0.7,0.7),(-0.7,0.5),
           (0.0,0.3),(0.4,0.1),(-0.4,0.2),(0.9,1.0),(-1.0,1.2),(1.2,1.5),(-1.3,0.8),(1.5,0.6),(-1.6,1.7),(4.35,1.07),
           (-1.8,0.8),(-1.4,1.2),(-1.0,0.6),(-0.6,1.1),(-0.2,1.4),(0.2,1.6),(0.6,1.0),(1.0,1.5),(1.3,1.0),(-2.2,1.4),
           (-0.5,1.9),(0.3,1.9),(0.8,1.8),(-0.1,0.5),(0.3,0.3),(-0.4,0.0),(0.6,1.3),(-0.4,2.6),(0.6,2.8),(0.0,3.4),
           (-0.6,3.9),(0.4,4.3),(-0.1,5.0),(0.7,5.4),(-0.4,6.0),(0.2,6.9),(-0.5,7.6),(0.6,8.0),(0.8,9.4),(-0.2,9.8),
           (0.5,11.1)]

C3_blue = [(-1.94,9.75),(-2.92,9.36),(-1.47,8.07),(-1.52,7.93),(-1.86,7.87),(-1.6,7.52),(-2.28,7.05),(-1.22,6.91),
           (-1.97,6.43),(-1.27,6.45),(-1.94,5.98),(-1.78,6.19),(-2.19,5.68),(-1.64,5.37),(-1.18,5.57),(-1.1,5.74),
           (-5.08,5.84),(-1.3,4.71),(-1.1,4.55),(-1.47,3.48),(-1.07,3.38),(-1.18,3.07),(-2.36,2.66),(-1.05,2.54),
           (-1.27,2.25),(-1.69,2.13)]
C3_red = [(4.73,8.03),(5.71,5.98),(1.79,6.19),(1.59,5.27),(1.08,3.67),(1.17,3.52),(1.87,2.95),(1.92,2.44),
          (1.42,2.25)]
C3_grey = [(-0.48,10.86),(-0.34,9.77),(0.55,8.2),(0.21,6.91),(0.27,7.05),(0.35,6.8),(-0.6,6.7),(0.1,6.3),
           (0.5,5.9),(-0.3,5.6),(0.8,5.3),(-0.7,5.0),(0.2,4.7),(0.6,4.4),(-0.4,4.1),(0.0,3.8),(0.9,3.6),(-0.8,3.4),
           (0.3,3.1),(-0.2,2.9),(0.7,2.6),(-0.6,2.4),(0.1,2.2),(-0.3,1.9),(0.4,1.7),(-0.8,1.5),(0.0,1.4),(0.7,1.2),
           (-0.5,1.0),(0.2,0.8),(-0.1,0.6),(0.5,0.4),(-0.4,0.3),(0.1,0.15),(0.8,0.7),(-0.9,0.6),(1.0,1.6),
           (-1.1,1.8),(1.2,0.9),(-2.53,1.11),(2.71,1.07),(-1.3,1.2),(1.5,1.9),
           (-0.9,0.1),(-0.6,0.9),(-0.3,1.3),(0.0,0.9),(0.3,1.3),(0.6,0.8),(0.9,1.2),(1.2,0.4),(-1.2,0.8),(-0.3,0.0),
           (0.4,0.2),(0.7,1.8),(-0.6,1.9),(0.1,1.9),(-0.4,2.6),(0.5,2.8),(-0.1,3.3),(0.6,3.9),(-0.5,4.4),(0.3,4.1),
           (-0.2,5.1),(0.4,5.4),(0.7,6.2),(-0.4,6.0)]

D3_blue = [(-9.85,14.15),(-7.63,11.3),(-1.74,11.79),(-1.93,11.3),(-1.0,9.32),(-0.96,7.97),(-5.35,8.05),
           (-3.22,7.37),(-1.28,7.18),(-7.11,6.29),(-2.61,6.1),(-1.31,5.47),(-1.74,5.07),(-1.15,5.07),(-1.04,4.44),
           (-1.19,3.36),(-1.04,3.04),(-1.74,2.85)]
D3_red = [(1.04,6.78),(1.31,4.04),(1.5,4.04),(1.22,2.49)]
D3_grey = [(0.39,14.15),(0.57,10.49),(0.52,10.2),(0.48,8.32),(-0.63,9.67),(-0.54,7.1),(0.7,7.8),(-0.3,6.8),
           (0.3,6.5),(0.8,6.1),(-0.7,5.8),(0.1,5.4),(0.6,5.0),(-0.4,4.7),(0.3,4.4),(0.85,4.1),(-0.8,3.9),(-0.1,3.6),
           (0.5,3.3),(-0.5,3.0),(0.2,2.8),(0.7,2.5),(-0.2,2.3),(0.9,2.1),(-0.6,1.8),(0.1,1.6),(0.6,1.4),(-0.3,1.2),
           (0.4,1.0),(-0.8,0.8),(0.0,0.6),(0.7,0.5),(-0.5,0.3),(0.3,0.2),(-0.1,0.05),(0.9,0.9),(-1.0,1.4),
           (1.1,1.2),(-1.2,0.5),(1.3,0.3),
           (-0.9,0.2),(-0.6,0.9),(-0.3,1.4),(0.0,1.0),(0.3,1.4),(0.6,0.8),(0.9,1.4),(1.2,0.8),(-1.1,0.9),(-0.2,0.4),
           (0.5,0.2),(0.8,1.9),(-0.5,2.0),(0.2,2.0),(-0.3,2.6),(0.5,2.9),(0.0,3.2),(0.6,3.7),(-0.6,4.3),(0.3,4.7),
           (0.7,5.4),(-0.2,5.7),(0.5,6.3),(0.6,7.3)]

# numbers of down / up regulated genes
DEG_counts = {"A1": (174, 184), "B1": (241, 213), "C1": (41, 48), "D1": (51, 21),
              "A2": (72, 95), "B2": (101, 75), "C2": (23, 15), "D2": (18, 11),
              "A3": (74, 49), "B3": (87, 41), "C3": (27, 9), "D3": (16, 4)}

# gene labels: (name, text x, text y, leader point or None)
A1_labels = [("Fcmr", -7.3, 11.4, None), ("Fcrla", -4.1, 10.0, (-6.27, 9.2)), ("Hs3st1", -5.8, 8.1, None),
             ("Afp", -6.7, 6.1, None), ("Ephb4", -4.05, 6.25, (-6.84, 7.9)), ("Col14a1", -6.3, 4.15, None),
             ("Prtn3", 7.06, 9.0, None), ("B4galnt4", 4.17, 7.2, (6.8, 6.75)), ("Tmem205", 6.07, 5.2, None)]
B1_labels = [("Fcmr", -6.9, 11.3, None), ("Fcrla", -3.9, 10.15, (-6.04, 9.4)), ("Hs3st1", -5.6, 8.4, None),
             ("Afp", -6.3, 6.2, None), ("Ephb4", -3.9, 6.4, (-6.5, 8.0)), ("Col14a1", -6.1, 4.2, None),
             ("Prtn3", 6.8, 9.1, None), ("B4galnt4", 3.55, 7.25, (6.6, 6.66)), ("Tmem205", 5.8, 5.3, None)]
C1_labels = [("Lcn2", -5.84, 12.35, None), ("Lrg1", -4.0, 9.97, None), ("Ccl5", 2.08, 8.97, None),
             ("Slit2", 2.67, 6.73, None), ("Prf1", 4.57, 6.73, None), ("Cd22", 5.18, 5.19, None),
             ("Mzb1", 1.24, 5.1, None), ("Cpm", 3.61, 3.58, None)]
D1_labels = [("Lcn2", -6.24, 13.03, None), ("Mmp8", -8.85, 11.2, None), ("Cd177", -3.78, 10.8, None),
             ("Lrg1", -6.39, 10.05, (-4.72, 9.34)), ("Slpi", -4.5, 8.65, None), ("C1rl", -2.26, 6.74, None),
             ("Bst1", -2.22, 5.3, None), ("Vcan", -8.85, 5.98, None), ("Met", 2.67, 4.25, None)]
A2_labels = [("Card11", -5.9, 11.7, None), ("S1pr1", -3.09, 11.2, None), ("Cd38", -6.2, 9.6, None),
             ("Cd55", -3.66, 9.7, None), ("Ptpn14", -5.96, 8.2, None), ("Myc", -3.51, 8.24, None),
             ("Il9r", -3.83, 6.63, None), ("Klrd1", -5.96, 5.72, None), ("Il2ra", -3.66, 4.61, None),
             ("Cxcr5", -6.17, 4.17, None), ("Asb2", -5.79, 2.8, None), ("F13a1", 4.85, 12.9, None),
             ("Rhcu", 5.32, 7.07, None), ("Trem2", 2.87, 5.6, None), ("Ccl2", 5.1, 4.22, None)]
B2_labels = [("Il5ra", -5.02, 13.06, None), ("Tnfsf4", -6.22, 11.03, None), ("Il9r", -4.26, 9.11, (-5.67, 9.3)),
             ("Cxcr5", -5.61, 7.01, None), ("Lta", -3.39, 6.9, (-5.74, 6.16)), ("Pscn1", -4.7, 4.87, None),
             ("Drd3", -6.43, 2.84, None), ("F13a1", 4.44, 16.05, None), ("Clec5a", 4.83, 11.03, None),
             ("Prtn3", 5.89, 8.93, None), ("Ccl2", 5.04, 5.98, (6.43, 6.64)), ("B4galnt4", 3.89, 3.95, (6.5, 6.0))]
C2_labels = [("Lcn2", -6.49, 11.27, None), ("S100a8", -4.13, 12.08, None), ("Fpr1", -4.0, 9.45, None),
             ("S100a9", -5.07, 8.19, None), ("Cd38", -2.13, 8.19, (-2.89, 9.33)), ("Stmn1", -1.36, 6.84, None),
             ("Il12a", -3.53, 5.45, None), ("Il9r", -1.67, 4.87, None), ("Ccl5", 2.96, 10.1, None),
             ("Tbx21", 2.69, 8.36, None), ("Ptpn14", 2.56, 6.89, None)]
D2_labels = [("Lcn2", -5.98, 12.75, None), ("S100a8", -4.6, 10.8, None), ("S100a9", -3.4, 9.28, None),
             ("Rhou", -3.9, 7.01, None), ("Prtn3", -1.7, 5.07, None), ("Fos", 2.73, 3.47, None)]
A3_labels = [("Ms4a1", -5.45, 12.13, None), ("Cd79a", -4.93, 10.64, None), ("Pdcd1lg2", -4.78, 8.0, None),
             ("Fcrl5", -4.6, 6.54, None), ("Cd19", -2.98, 5.08, (-5.72, 5.85)), ("Cxcr5", -5.56, 3.64, (-5.79, 5.0)),
             ("Chil3", 6.53, 10.72, None), ("Ly6c2", 6.98, 9.03, None)]
B3_labels = [("Cd79a", -4.72, 16.13, None), ("Ms4a1", -6.48, 13.73, None), ("Il5ra", -3.69, 12.32, (-5.58, 12.36)),
             ("Cd19", -6.7, 10.48, None), ("Il9r", -4.5, 10.11, (-5.65, 9.37)), ("Tnfsf4", -6.38, 8.27, None),
             ("Fcamr", -3.71, 8.12, (-5.3, 8.27)), ("Cxcr5", -4.5, 6.05, (-6.77, 7.34)),
             ("Itga3", -6.55, 3.95, (-6.94, 5.98)), ("Chil3", 5.86, 16.24, None), ("Ly6c2", 5.02, 12.92, None),
             ("Ly6c1", 5.65, 9.74, None)]
C3_labels = [("Cd38", -3.49, 8.71, None), ("Cdh1", -1.77, 7.66, None), ("Il9r", -1.6, 6.09, None),
             ("Cd19", -4.16, 5.78, None), ("Ccr6", -1.81, 3.22, None), ("Ms4a1", 4.06, 7.42, None),
             ("Cd22", 4.7, 5.94, None)]
D3_labels = [("Chil3", -8.87, 13.88, None), ("Ly6c2", -7.07, 11.92, None), ("Cd93", -2.63, 10.49, None),
             ("Ly6c1", -5.96, 8.67, None), ("Msr1", -3.87, 8.05, None), ("Cd33", -7.76, 5.47, None),
             ("Bst1", -1.93, 5.2, None)]

# ---------------- layout ----------------
W, H = 1150, 783
fig = plt.figure(figsize=(W / 100, H / 100), dpi=100)

BLUE, RED, GREY = "#0000FF", "#FF0000", "#BEBEBE"
TXT_BLUE, TXT_RED = "#3737F5", "#F51A1A"


def fpos(x, y):
    return x / W, 1 - y / H


def add_panel(box, xlim, ylim, xticks, xtl, yticks, ytl, blue, red, grey, key, cpos, labels):
    l, t, r, b = box
    ax = fig.add_axes([l / W, 1 - b / H, (r - l) / W, (b - t) / H])
    for pts, c in ((grey, GREY), (blue, BLUE), (red, RED)):
        ax.scatter([p[0] for p in pts], [p[1] for p in pts], s=20, c=c, linewidths=0, zorder=2)
    ax.axvline(-1, color="#333333", lw=0.9, ls=(0, (4, 3)), zorder=3)
    ax.axvline(1, color="#333333", lw=0.9, ls=(0, (4, 3)), zorder=3)
    ax.axhline(2, color="#333333", lw=0.9, ls=(0, (4, 3)), zorder=3)
    ax.set_xlim(*xlim)
    ax.set_ylim(*ylim)
    ax.set_xticks(xticks)
    ax.set_xticklabels(xtl)
    ax.set_yticks(yticks)
    ax.set_yticklabels(ytl)
    ax.tick_params(length=3, width=0.8, color="#333333", labelcolor="#4D4D4D", labelsize=13, pad=2)
    for sp in ax.spines.values():
        sp.set_color("#8C8C8C")
        sp.set_linewidth(1.0)
    dn, up = DEG_counts[key]
    ax.text(cpos[0][0], cpos[0][1], str(dn), color=TXT_BLUE, fontsize=13, ha="center", va="center", zorder=4)
    ax.text(cpos[1][0], cpos[1][1], str(up), color=TXT_RED, fontsize=13, ha="center", va="center", zorder=4)
    for name, tx, ty, pt in labels:
        if pt is None:
            ax.text(tx, ty, name, fontsize=10, color="#1A1A1A", ha="center", va="center", zorder=4)
        else:
            ax.annotate(name, xy=pt, xytext=(tx, ty), fontsize=10, color="#1A1A1A", ha="center", va="center",
                        zorder=4, arrowprops=dict(arrowstyle="-", color="#1A1A1A", lw=0.6, shrinkA=1, shrinkB=2))
    return ax


def ints(v):
    return [str(x) for x in v]


def dec(v):
    return ["%.1f" % x for x in v]


# row 1
add_panel((100, 72, 325, 264), (-8.26, 8.41), (-0.91, 18.54), [-4, 0, 4, 8], ints([-4, 0, 4, 8]),
          [0, 5, 10, 15], ints([0, 5, 10, 15]), A1_blue, A1_red, A1_grey, "A1",
          ((-5.04, 17.2), (5.63, 17.2)), A1_labels)
add_panel((376, 70, 603, 264), (-7.92, 8.10), (-1.2, 18.68), [-4, 0, 4, 8], ints([-4, 0, 4, 8]),
          [0, 5, 10, 15], ints([0, 5, 10, 15]), B1_blue, B1_red, B1_grey, "B1",
          ((-5.4, 17.15), (5.78, 17.25)), B1_labels)
add_panel((656, 72, 883, 264), (-7.51, 6.38), (-0.83, 15.67), [-4, 0, 4], ints([-4, 0, 4]),
          [0, 5, 10, 15], ints([0, 5, 10, 15]), C1_blue, C1_red, C1_grey, "C1",
          ((-5.02, 14.47), (3.96, 14.47)), C1_labels)
add_panel((926, 72, 1165, 264), (-10.63, 4.96), (-0.82, 13.84), [-10, -5, 0], ints([-10, -5, 0]),
          [0, 5, 10], ints([0, 5, 10]), D1_blue, D1_red, D1_grey, "D1",
          ((-9.0, 12.8), (2.89, 12.67)), D1_labels)
# row 2
add_panel((100, 302, 325, 492), (-7.45, 6.91), (-0.72, 14.04), [-4, 0, 4], ints([-4, 0, 4]),
          [0, 5, 10], ints([0, 5, 10]), A2_blue, A2_red, A2_grey, "A2",
          ((-4.43, 13.2), (2.66, 13.2)), A2_labels)
add_panel((376, 303, 602, 496), (-7.57, 7.18), (-0.96, 20.4), [-4, 0, 4], ints([-4, 0, 4]),
          [0, 5, 10, 15, 20], ints([0, 5, 10, 15, 20]), B2_blue, B2_red, B2_grey, "B2",
          ((-4.5, 19.45), (4.22, 19.45)), B2_labels)
add_panel((673, 301, 882, 493), (-7.51, 3.89), (-0.58, 12.83), [-5, -2.5, 0, 2.5], dec([-5, -2.5, 0, 2.5]),
          [0, 2.5, 5, 7.5, 10, 12.5], dec([0, 2.5, 5, 7.5, 10, 12.5]), C2_blue, C2_red, C2_grey, "C2",
          ((-2.07, 12.08), (2.05, 12.03)), C2_labels)
add_panel((926, 302, 1165, 493), (-7.43, 4.51), (-0.56, 14.72), [-5, -2.5, 0, 2.5], dec([-5, -2.5, 0, 2.5]),
          [0, 5, 10], ints([0, 5, 10]), D2_blue, D2_red, D2_grey, "D2",
          ((-5.82, 13.89), (2.38, 13.89)), D2_labels)
# row 3
add_panel((97, 542, 325, 732), (-6.89, 8.48), (-0.67, 13.95), [-4, -1, 0, 1, 4, 8], ints([-4, -1, 0, 1, 4, 8]),
          [0, 5, 10], ints([0, 5, 10]), A3_blue, A3_red, A3_grey, "A3",
          ((-3.54, 13.08), (5.67, 13.08)), A3_labels)
add_panel((377, 542, 603, 736), (-7.6, 6.98), (-0.96, 20.52), [-4, -1, 0, 1, 4], ints([-4, -1, 0, 1, 4]),
          [0, 5, 10, 15, 20], ints([0, 5, 10, 15, 20]), B3_blue, B3_red, B3_grey, "B3",
          ((-4.4, 19.37), (4.27, 19.37)), B3_labels)
add_panel((643, 543, 883, 740), (-5.6, 6.21), (-0.52, 11.36), [-3, -1, 0, 1, 3, 6], ints([-3, -1, 0, 1, 3, 6]),
          [0, 3, 6, 9], ints([0, 3, 6, 9]), C3_blue, C3_red, C3_grey, "C3",
          ((-2.95, 10.8), (4.14, 10.8)), C3_labels)
add_panel((926, 542, 1165, 737), (-10.45, 2.54), (-0.64, 14.76), [-10, -7.5, -5, -2.5, -1, 0, 1],
          ["-10.0", "-7.5", "-5.0", "-2.5", "-1", "0.0", "1"],
          [0, 5, 10], ints([0, 5, 10]), D3_blue, D3_red, D3_grey, "D3",
          ((-6.59, 14.01), (1.5, 14.01)), D3_labels)

# ---------------- figure-level text ----------------
fig.text(*fpos(45, -2), r"( Volcano plot, DEG= |log$_2$FC|>1, adj.$\it{P}$ < 0.01)", fontsize=12,
         ha="left", va="center", color="#222222")
fig.text(*fpos(640, 18), "Comparison groups", fontsize=13.5, fontweight="bold", ha="center", va="center")

brace = Path([fpos(247, 52), fpos(247, 40), fpos(252, 34), fpos(265, 34), fpos(622, 34),
              fpos(632, 34), fpos(638, 30), fpos(640, 25),
              fpos(642, 30), fpos(648, 34), fpos(658, 34), fpos(1072, 34),
              fpos(1085, 34), fpos(1090, 40), fpos(1090, 52)],
             [Path.MOVETO, Path.CURVE4, Path.CURVE4, Path.CURVE4, Path.LINETO,
              Path.CURVE4, Path.CURVE4, Path.CURVE4,
              Path.CURVE4, Path.CURVE4, Path.CURVE4, Path.LINETO,
              Path.CURVE4, Path.CURVE4, Path.CURVE4])
fig.add_artist(PathPatch(brace, transform=fig.transFigure, fill=False, lw=1.6, color="black"))

titles = [(217, r"($\mathbf{A}$) Ly6C$^{\mathrm{high}}$ vs Ly6C$^{\mathrm{low}}$(CT)"),
          (497, r"($\mathbf{B}$) Ly6C$^{\mathrm{high}}$ vs Ly6C$^{\mathrm{low}}$($\it{Cbs}^{-/-}$)"),
          (760, r"($\mathbf{C}$) $\it{Cbs}^{-/-}$ vs CT (Ly6C$^{\mathrm{high}}$)"),
          (1007, r"($\mathbf{D}$) $\it{Cbs}^{-/-}$ vs CT (Ly6C$^{\mathrm{low}}$)")]
for x, s in titles:
    fig.text(*fpos(x, 52), s, fontsize=12, ha="center", va="center")

for y, s in ((165, "Secretome"), (395, "Cytokine"), (640, "Surface marker")):
    fig.text(*fpos(22, y), s, fontsize=14, fontweight="bold", rotation=90, ha="center", va="center")
for y in (168, 397, 637):
    fig.text(*fpos(62, y), r"-Log$_{10}$(adj.$\it{P}$ Val)", fontsize=14, rotation=90,
             ha="center", va="center", color="#1A1A1A")
for x in (212, 490, 762, 1062):
    fig.text(*fpos(x, 770), r"Log$_2$FC", fontsize=14, ha="center", va="center", color="#1A1A1A")

fig.savefig("out.png", dpi=100)
